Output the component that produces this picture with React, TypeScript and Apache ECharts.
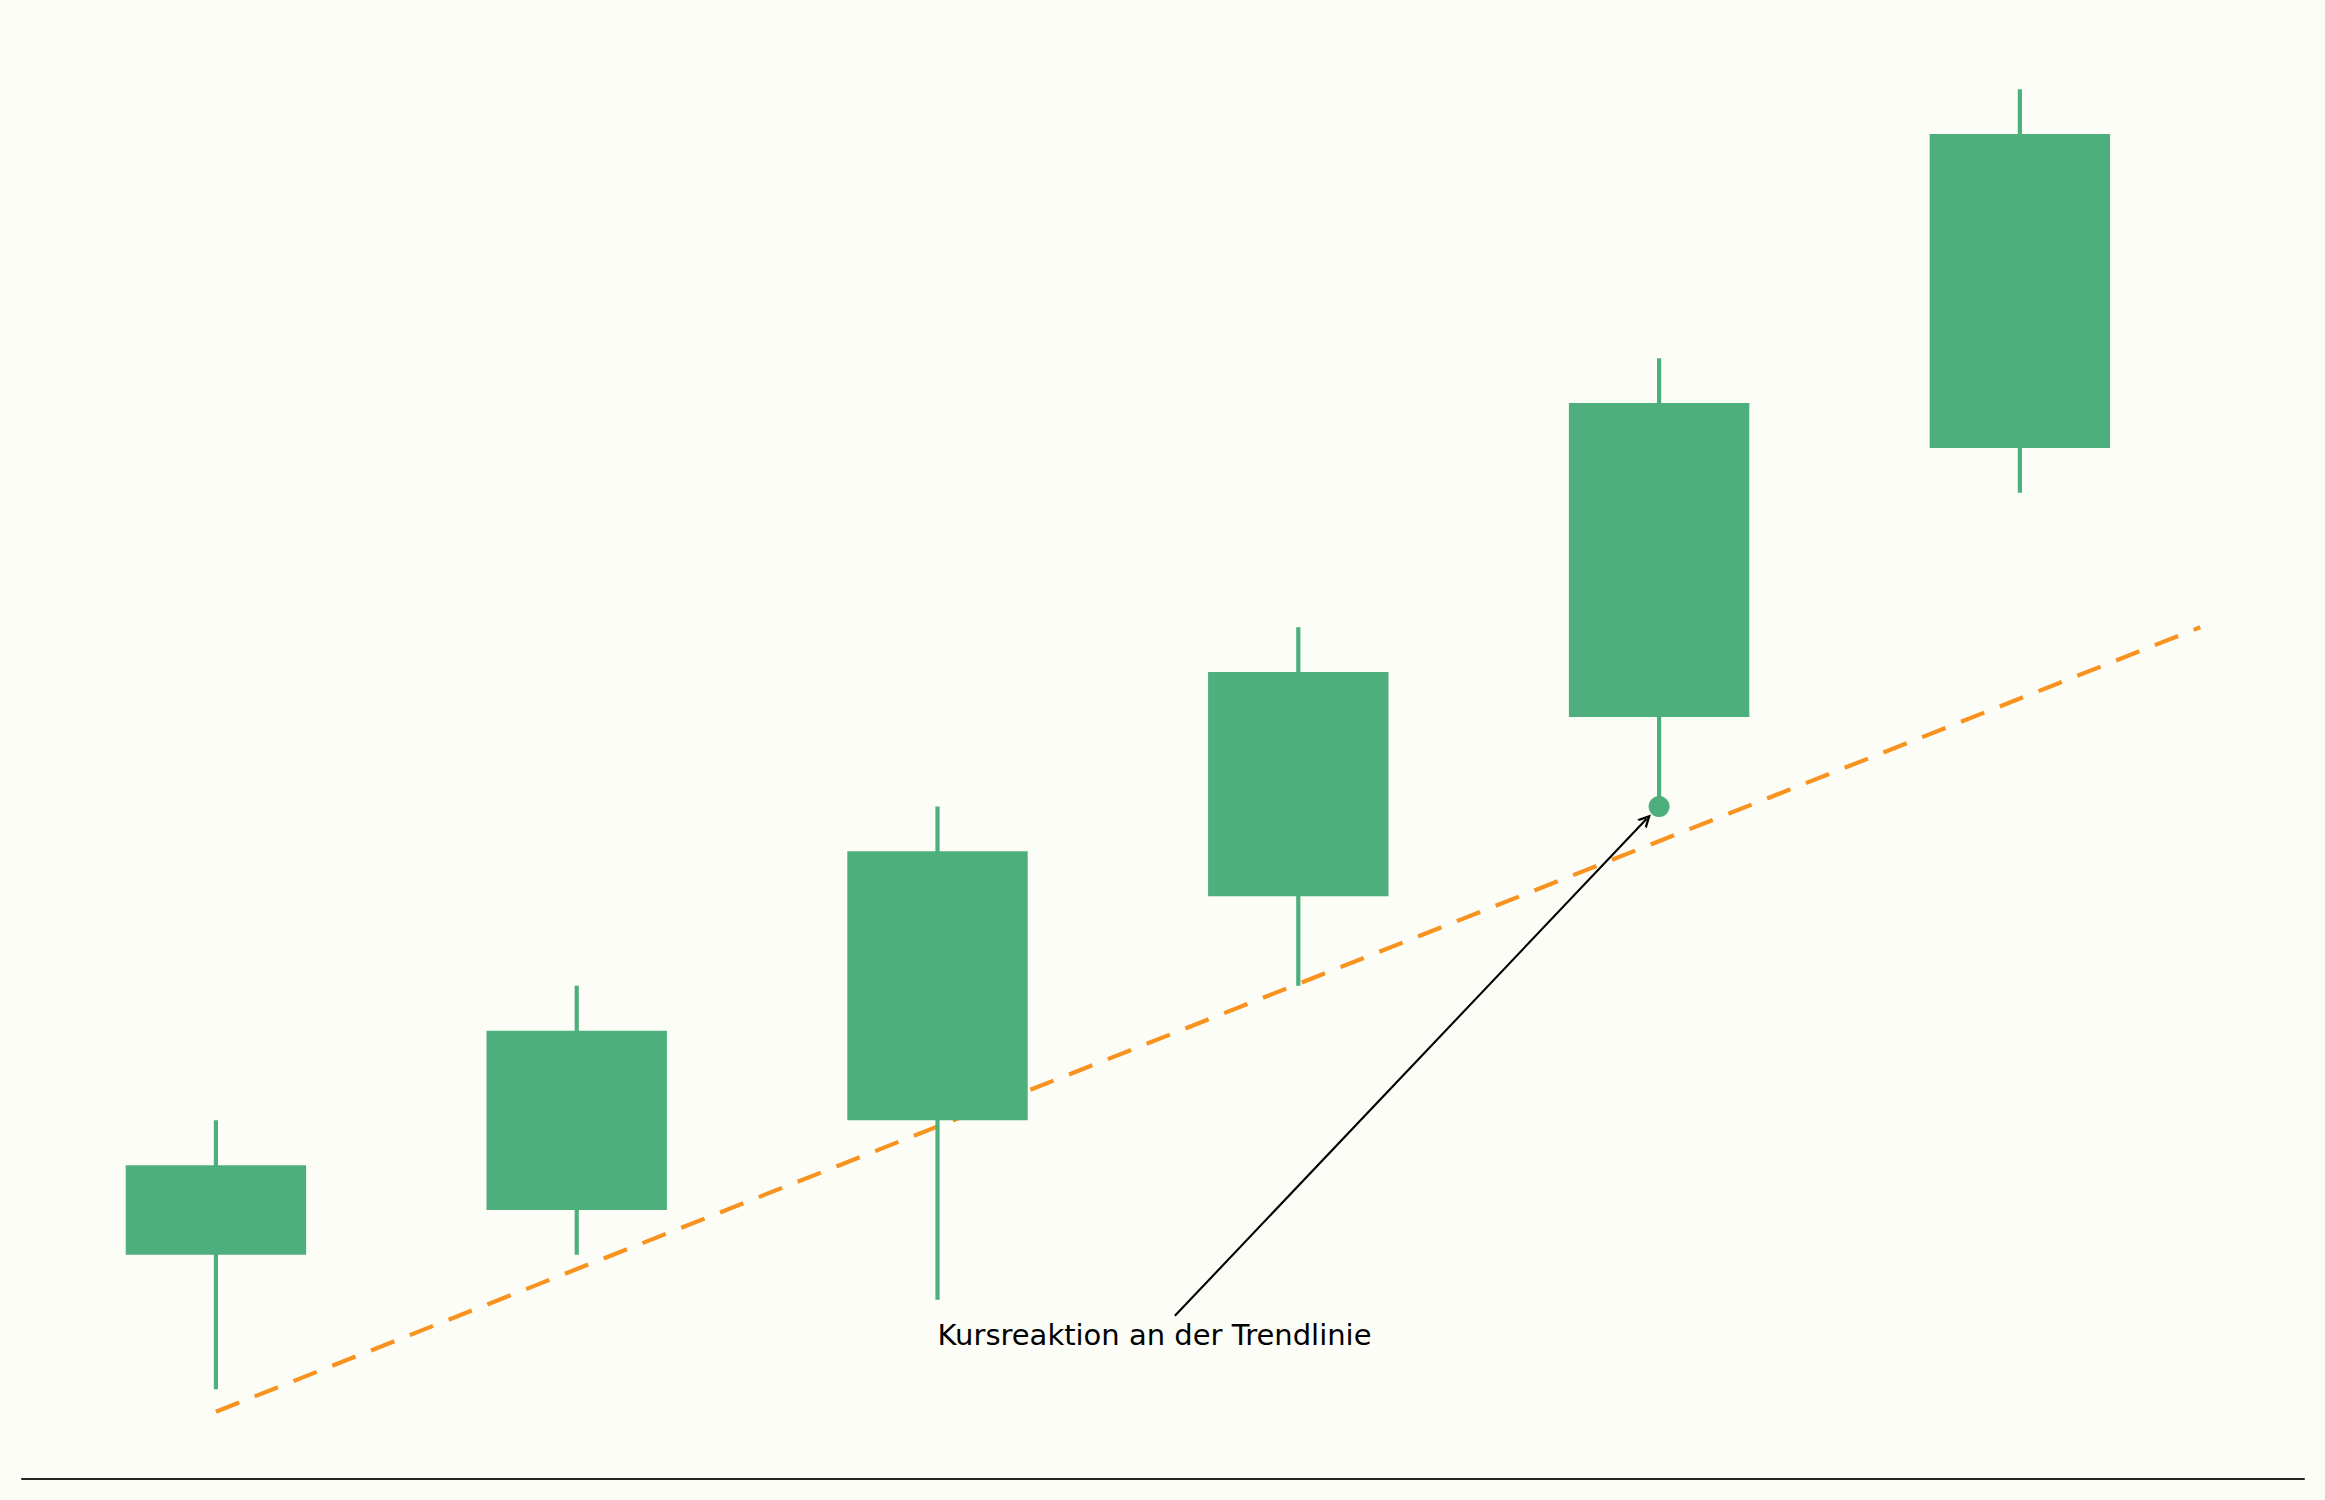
import { useEffect, useRef } from 'react';
import * as echarts from 'echarts';

// Kerzen: Position, Eröffnung, Schluss, Tief, Hoch
const candleX = [0, 1, 2, 3, 4, 5];
const openValues = [103, 104, 106, 111, 115, 121];
const closeValues = [105, 108, 112, 116, 122, 128];
const lowValues = [100, 103, 102, 109, 113, 120];
const highValues = [106, 109, 113, 117, 123, 129];

// Trendlinie (Anfang und Ende)
const trendX = [0, 5.5];
const trendY = [99.5, 117];

// markiertes Tief an der Trendlinie
const touchPoint = [4, 113];

// Beschriftung mit Pfeil
const annotationText = 'Kursreaktion an der Trendlinie';
const annotationAt = [2, 101];
const arrowFrom = [2.658, 101.64];
const arrowTo = [3.965, 112.72];

const GREEN = '#4DAF7C';
const ORANGE = '#F7931E';
const BG = '#FDFDF8';

const App: React.FC = () => {
  const chartRef = useRef<HTMLDivElement>(null);

  useEffect(() => {
    if (!chartRef.current) return;
    document.body.style.margin = '0';
    document.body.style.background = BG;

    const chart = echarts.init(chartRef.current, null, { renderer: 'svg' });

    const candles = candleX.map((x, i) => [x, openValues[i], closeValues[i], lowValues[i], highValues[i]]);
    const trend = trendX.map((x, i) => [x, trendY[i]]);

    const option: echarts.EChartsOption = {
      animation: false,
      backgroundColor: BG,
      grid: { left: 22, right: 21, top: 22, bottom: 21 },
      xAxis: {
        type: 'value',
        min: -0.5375,
        max: 5.7875,
        axisLine: { show: true, onZero: false, lineStyle: { color: '#262626', width: 2 } },
        axisTick: { show: false },
        axisLabel: { show: false },
        splitLine: { show: false },
      },
      yAxis: {
        type: 'value',
        min: 98,
        max: 130.5,
        show: false,
        splitLine: { show: false },
      },
      series: [
        {
          // Trendlinie liegt unter den Kerzen
          type: 'line',
          data: trend,
          symbol: 'none',
          z: 1,
          lineStyle: { color: ORANGE, width: 4.2, type: [25, 16.7], cap: 'butt' },
        },
        {
          type: 'custom',
          data: candles,
          z: 2,
          encode: { x: 0, y: [1, 2, 3, 4] },
          renderItem: (_params: any, api: any) => {
            const x = api.value(0);
            const o = api.value(1);
            const c = api.value(2);
            const lo = api.value(3);
            const hi = api.value(4);
            const pLow = api.coord([x, lo]);
            const pHigh = api.coord([x, hi]);
            const p0 = api.coord([x - 0.25, Math.max(o, c)]);
            const p1 = api.coord([x + 0.25, Math.min(o, c)]);
            return {
              type: 'group',
              children: [
                {
                  type: 'line',
                  shape: { x1: pLow[0], y1: pLow[1], x2: pHigh[0], y2: pHigh[1] },
                  style: { stroke: GREEN, lineWidth: 4.2 },
                },
                {
                  type: 'rect',
                  shape: { x: p0[0], y: p0[1], width: p1[0] - p0[0], height: p1[1] - p0[1] },
                  style: { fill: GREEN },
                },
              ],
            };
          },
        },
        {
          type: 'scatter',
          data: [touchPoint],
          symbolSize: 21,
          z: 3,
          itemStyle: { color: GREEN, opacity: 1 },
        },
        {
          type: 'lines',
          coordinateSystem: 'cartesian2d',
          z: 4,
          symbol: ['none', 'path://M0,12L6,0L12,12L9.6,12L6,4.8L2.4,12Z'],
          symbolSize: [14, 13],
          lineStyle: { color: '#000000', width: 2.1, opacity: 1 },
          data: [{ coords: [arrowFrom, arrowTo] }],
          itemStyle: { color: '#000000' },
        },
        {
          type: 'scatter',
          data: [annotationAt],
          symbolSize: 0,
          z: 5,
          silent: true,
          label: {
            show: true,
            position: [0, 0],
            offset: [0, -10],
            align: 'left',
            verticalAlign: 'middle',
            formatter: annotationText,
            color: '#000000',
            opacity: 1,
            fontFamily: 'DejaVu Sans',
            fontSize: 29,
          },
        },
      ],
    };

    chart.setOption(option);

    return () => {
      chart.dispose();
    };
  }, []);

  return <div ref={chartRef} style={{ width: '2325px', height: '1500px' }} />;
};

export default App;
